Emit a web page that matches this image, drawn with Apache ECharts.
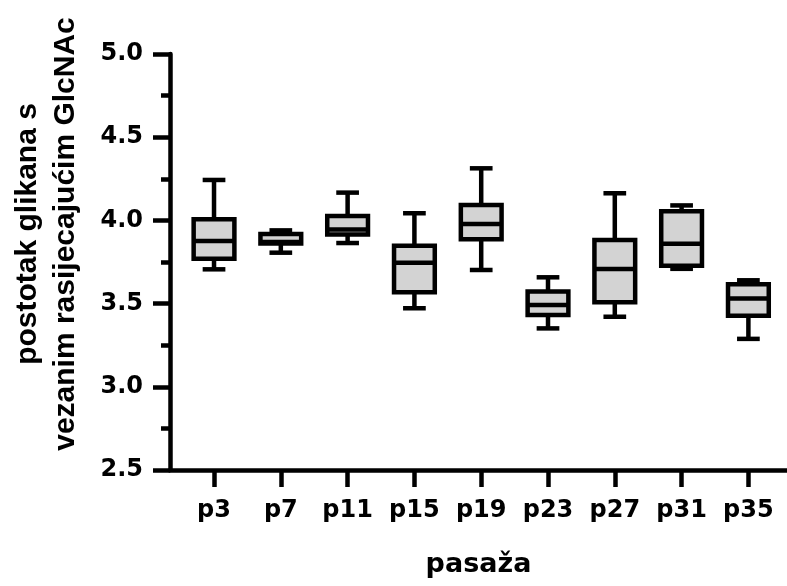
<!DOCTYPE html>
<html>
<head>
<meta charset="utf-8">
<script src="https://cdn.jsdelivr.net/npm/echarts@6/dist/echarts.min.js"></script>
<style>
  html, body { margin: 0; padding: 0; background: #fff; }
  #chart { width: 787px; height: 586px; }
</style>
</head>
<body>
<div id="chart"></div>
<script>
// pasaže
var categories = ['p3', 'p7', 'p11', 'p15', 'p19', 'p23', 'p27', 'p31', 'p35'];
// box plot: min, Q1, median, Q3, max
var whiskerLow  = [3.706, 3.806, 3.864, 3.472, 3.702, 3.351, 3.421, 3.709, 3.288];
var q1          = [3.770, 3.861, 3.915, 3.568, 3.886, 3.431, 3.508, 3.727, 3.427];
var median      = [3.876, 3.870, 3.945, 3.746, 3.978, 3.492, 3.708, 3.860, 3.530];
var q3          = [4.007, 3.918, 4.027, 3.848, 4.093, 3.572, 3.882, 4.055, 3.616];
var whiskerHigh = [4.243, 3.940, 4.167, 4.043, 4.313, 3.658, 4.163, 4.090, 3.640];
var yTicks = [2.5, 3.0, 3.5, 4.0, 4.5, 5.0];

var labelFont = 'DejaVu Sans';
var lw = 4.5;
var boxData = categories.map(function (c, i) {
  return [i, whiskerLow[i], q1[i], median[i], q3[i], whiskerHigh[i]];
});
var catIdx = categories.map(function (c, i) { return i; });

var myChart = echarts.init(document.getElementById('chart'), null, { renderer: 'canvas' });

var option = {
  animation: false,
  backgroundColor: '#fff',
  grid: { left: 170, right: 0, top: 54, bottom: 116 },
  xAxis: {
    type: 'value',
    min: -0.659,
    max: 8.578,
    name: 'pasaža',
    nameLocation: 'middle',
    nameGap: 81,
    nameTextStyle: { fontFamily: labelFont, fontWeight: 'bold', fontSize: 27, color: '#000' },
    axisLine: { show: true, onZero: false, lineStyle: { color: '#000', width: lw } },
    axisTick: { show: true, length: 17, lineStyle: { color: '#000', width: lw }, customValues: catIdx },
    axisLabel: {
      customValues: catIdx,
      margin: 29,
      fontFamily: labelFont, fontWeight: 'bold', fontSize: 24, color: '#000',
      formatter: function (v) { return categories[Math.round(v)]; }
    },
    splitLine: { show: false }
  },
  yAxis: {
    type: 'value',
    min: yTicks[0],
    max: yTicks[yTicks.length - 1],
    interval: 0.5,
    axisLine: { show: true, onZero: false, lineStyle: { color: '#000', width: lw } },
    axisTick: { show: true, length: 17, lineStyle: { color: '#000', width: lw } },
    minorTick: { show: true, splitNumber: 2, length: 9, lineStyle: { color: '#000', width: lw } },
    axisLabel: {
      margin: 27,
      fontFamily: labelFont, fontWeight: 'bold', fontSize: 24, color: '#000',
      formatter: function (v) { return v.toFixed(1); }
    },
    splitLine: { show: false },
    minorSplitLine: { show: false }
  },
  graphic: [{
    type: 'text',
    x: 47,
    y: 234,
    rotation: Math.PI / 2,
    style: {
      text: 'postotak glikana s\nvezanim rasijecajućim GlcNAc',
      font: 'bold 30px "Liberation Sans", Arial, sans-serif',
      fill: '#000',
      align: 'center',
      verticalAlign: 'middle',
      lineHeight: 38
    }
  }],
  series: [{
    type: 'custom',
    data: boxData,
    encode: { x: 0, y: [1, 2, 3, 4, 5] },
    renderItem: function (params, api) {
      var x = api.value(0);
      var lo = api.coord([x, api.value(1)]);
      var b1 = api.coord([x, api.value(2)]);
      var md = api.coord([x, api.value(3)]);
      var b3 = api.coord([x, api.value(4)]);
      var hi = api.coord([x, api.value(5)]);
      var bw = api.size([0.61, 0])[0];
      var cw = api.size([0.34, 0])[0];
      var cx = lo[0];
      var ls = { stroke: '#000', lineWidth: lw, lineCap: 'butt' };
      return {
        type: 'group',
        children: [
          { type: 'line', shape: { x1: cx, y1: lo[1], x2: cx, y2: b1[1] }, style: ls },
          { type: 'line', shape: { x1: cx, y1: b3[1], x2: cx, y2: hi[1] }, style: ls },
          { type: 'line', shape: { x1: cx - cw / 2, y1: lo[1], x2: cx + cw / 2, y2: lo[1] }, style: ls },
          { type: 'line', shape: { x1: cx - cw / 2, y1: hi[1], x2: cx + cw / 2, y2: hi[1] }, style: ls },
          { type: 'rect', shape: { x: cx - bw / 2, y: b3[1], width: bw, height: b1[1] - b3[1] },
            style: { fill: '#d3d3d3', stroke: '#000', lineWidth: lw } },
          { type: 'line', shape: { x1: cx - bw / 2, y1: md[1], x2: cx + bw / 2, y2: md[1] }, style: ls }
        ]
      };
    }
  }]
};

myChart.setOption(option);
</script>
</body>
</html>
